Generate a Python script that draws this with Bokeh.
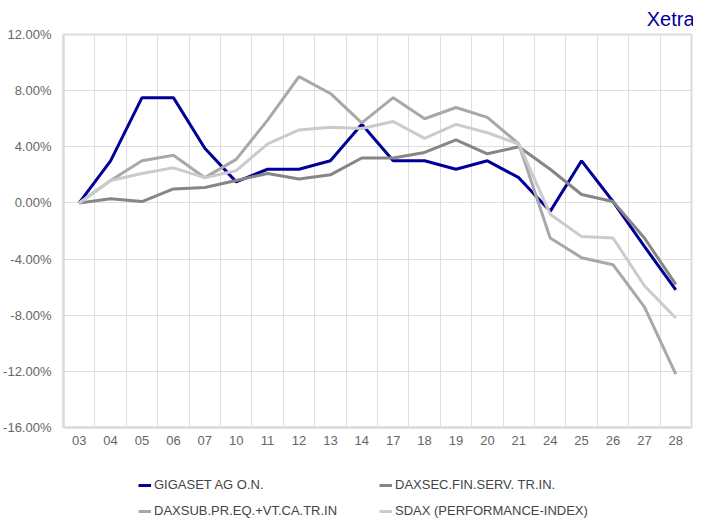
from bokeh.plotting import figure
from bokeh.layouts import column
from bokeh.models import FixedTicker, Legend, LegendItem, CustomJSTickFormatter, Range1d
from bokeh.embed import file_html
from bokeh.resources import INLINE

dates = ["03", "04", "05", "06", "07", "10", "11", "12", "13", "14",
         "17", "18", "19", "20", "21", "24", "25", "26", "27", "28"]
gigaset = [0.0, 3.0, 7.5, 7.5, 3.9, 1.5, 2.4, 2.4, 3.0, 5.6,
           3.0, 3.0, 2.4, 3.0, 1.8, -0.6, 3.0, 0.1, -3.1, -6.2]
daxsec = [0.0, 0.3, 0.1, 1.0, 1.1, 1.6, 2.1, 1.7, 2.0, 3.2,
          3.2, 3.6, 4.5, 3.5, 4.0, 2.4, 0.6, 0.1, -2.5, -5.8]
daxsub = [0.0, 1.6, 3.0, 3.4, 1.8, 3.1, 5.9, 9.0, 7.8, 5.7,
          7.5, 6.0, 6.8, 6.1, 4.2, -2.5, -3.9, -4.4, -7.4, -12.2]
sdax = [0.0, 1.6, 2.1, 2.5, 1.8, 2.3, 4.2, 5.2, 5.4, 5.3,
        5.8, 4.6, 5.6, 5.0, 4.2, -0.8, -2.4, -2.5, -5.9, -8.2]
series_names = ["GIGASET AG O.N.", "DAXSEC.FIN.SERV. TR.IN.",
                "DAXSUB.PR.EQ.+VT.CA.TR.IN", "SDAX (PERFORMANCE-INDEX)"]
y_ticks = [-16, -12, -8, -4, 0, 4, 8, 12]

colors = ["#000099", "#868686", "#a8a8a8", "#cbcbcb"]
FONT = "Liberation Sans"

xs = list(range(len(dates)))
all_series = [gigaset, daxsec, daxsub, sdax]

p = figure(width=693, height=448, output_backend="svg", toolbar_location=None,
           x_range=Range1d(-0.5, len(dates) - 0.5), y_range=Range1d(-16, 12),
           min_border_left=54, min_border_right=2, min_border_top=26,
           min_border_bottom=21)

p.title.text = "Xetra"
p.title.align = "right"
p.title.offset = -3
p.title.text_font = FONT
p.title.text_font_size = "20px"
p.title.text_font_style = "normal"
p.title.text_color = "#000099"
p.title.standoff = 10

p.outline_line_color = "#dcdcdc"
p.outline_line_width = 2

p.xaxis.ticker = FixedTicker(ticks=xs)
p.xaxis.major_label_overrides = {i: d for i, d in zip(xs, dates)}
p.yaxis.ticker = FixedTicker(ticks=y_ticks)
p.yaxis.formatter = CustomJSTickFormatter(code="return tick.toFixed(2) + '%';")
for ax in (p.xaxis[0], p.yaxis[0]):
    ax.axis_line_color = "#d9d9d9"
    ax.axis_line_width = 2
    ax.major_tick_line_color = None
    ax.minor_tick_line_color = None
    ax.major_label_text_font = FONT
    ax.major_label_text_font_size = "13px"
    ax.major_label_text_color = "#666666"
p.xaxis.major_label_standoff = 2
p.yaxis.major_label_standoff = 6

p.xgrid.ticker = FixedTicker(ticks=[i - 0.5 for i in range(len(dates) + 1)])
p.ygrid.ticker = FixedTicker(ticks=y_ticks)
p.xgrid.grid_line_color = "#dedede"
p.ygrid.grid_line_color = "#dedede"

for data, c in zip(all_series, colors):
    p.line(xs, data, line_color=c, line_width=3)

# legend strip below the chart
lg = figure(width=693, height=70, output_backend="svg", toolbar_location=None,
            x_range=Range1d(0, 1), y_range=Range1d(0, 1),
            x_axis_location=None, y_axis_location=None, min_border=0,
            min_border_left=0, min_border_right=0, min_border_top=0,
            min_border_bottom=0)
lg.outline_line_color = None
lg.xgrid.visible = False
lg.ygrid.visible = False
keys = [lg.line(xs[:1], data[:1], line_color=c, line_width=3)
        for data, c in zip(all_series, colors)]
items = [LegendItem(label=n, renderers=[r]) for n, r in zip(series_names, keys)]
legend = Legend(items=items, orientation="horizontal", ncols=2,
                location=(75, 0), margin=0, padding=0,
                glyph_width=13, glyph_height=14, label_height=14,
                label_width=214, label_standoff=3, spacing=11,
                label_text_font=FONT, label_text_font_size="13px",
                label_text_color="#444444",
                border_line_color=None, background_fill_alpha=0)
lg.add_layout(legend, "center")

layout = column(p, lg, spacing=0)
open("out.html", "w").write(file_html(layout, INLINE))
